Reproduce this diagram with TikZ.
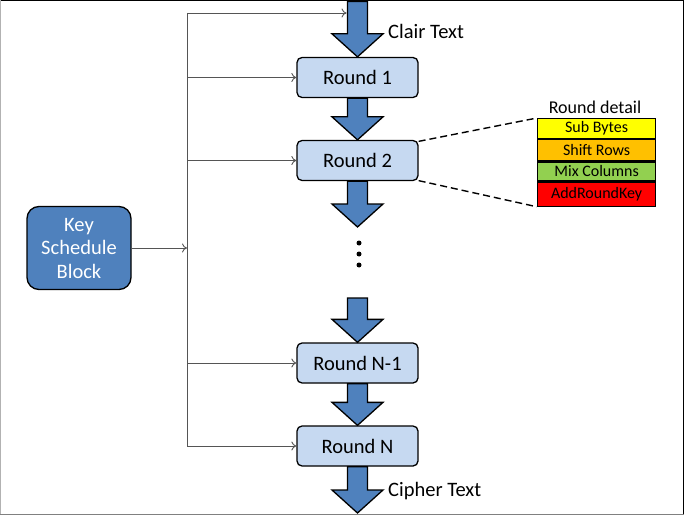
\documentclass[tikz,border=0pt]{standalone}
\usepackage{fontspec}
\setmainfont{Carlito}
\usetikzlibrary{calc,arrows.meta}
\definecolor{roundfill}{HTML}{C6D9F1}
\definecolor{keyfill}{HTML}{4F81BD}
\definecolor{arrfill}{HTML}{4F81BD}
\definecolor{connc}{HTML}{555555}
\definecolor{sbfill}{HTML}{FFFF00}
\definecolor{srfill}{HTML}{FFC000}
\definecolor{mcfill}{HTML}{92D050}
\definecolor{arkfill}{HTML}{FF0000}
\tikzset{
  roundbox/.style={draw=black, line width=1.3pt, fill=roundfill, rounded corners=5pt,
    minimum width=121pt, minimum height=40pt, inner sep=0pt, font=\fontsize{20.5}{22}\selectfont},
  keybox/.style={draw=black, line width=1.3pt, fill=keyfill, rounded corners=12pt,
    minimum width=104pt, minimum height=83pt, inner sep=0pt, text=white, align=center,
    font=\fontsize{20.5}{23.5}\selectfont},
  conn/.style={draw=connc, line width=0.9pt},
  connarrow/.style={conn, -{To[length=5pt,width=9pt]}},
  blockarr/.style={draw=black, line width=1.3pt, fill=arrfill, line join=miter},
  detailbox/.style={draw=black, line width=1.2pt, minimum width=118pt, inner sep=0pt,
    font=\fontsize{16}{17}\selectfont},
  lbl/.style={font=\fontsize{20.5}{22}\selectfont, anchor=west, inner sep=0pt},
  dashconn/.style={draw=black, line width=1.4pt, dash pattern=on 7pt off 4pt},
  dot/.style={circle, fill=black, inner sep=0pt, minimum size=5pt}
}
\newcommand{\blockarrow}[2]{%
  \path[blockarr] let \p1=(#1), \p2=(#2) in
    (\x1-10pt,\y1) -- (\x1+10pt,\y1) -- (\x1+10pt,\y2+23pt) -- (\x1+25.5pt,\y2+23pt)
    -- (\x1,\y2) -- (\x1-25.5pt,\y2+23pt) -- (\x1-10pt,\y2+23pt) -- cycle;}
\begin{document}
\begin{tikzpicture}[x=1pt,y=-1pt]
\useasboundingbox (0,0) rectangle (685,516);
% frame
\draw[black, line width=1.5pt] (0,0.75) -- (683.5,0.75) -- (683.5,514);
\draw[gray!60, line width=1.2pt] (0.6,0) -- (0.6,514);
\draw[gray, line width=1.5pt] (0,514.5) -- (683.5,514.5);

% rounds
\node[roundbox] (r1) at (357.5,77.5) {Round 1};
\node[roundbox] (r2) at (357.5,160.5) {Round 2};
\node[roundbox] (rn1) at (357.5,363) {Round N-1};
\node[roundbox] (rn) at (357.5,446) {Round N};
\node[keybox] (key) at (79,248) {Key\\Schedule\\Block};

% coordinates for free ends of block arrows
\coordinate (in) at (357.5,1.5);
\coordinate (out) at (357.5,513);
\coordinate (gapA) at (357.5,227);
\coordinate (gapB) at (357.5,298);

% block arrows
\blockarrow{in}{r1.north}
\blockarrow{r1.south}{r2.north}
\blockarrow{r2.south}{gapA}
\blockarrow{gapB}{rn1.north}
\blockarrow{rn1.south}{rn.north}
\blockarrow{rn.south}{out}

% dots
\node[dot] (d1) at (359,243) {};
\node[dot] (d2) at (359,254) {};
\node[dot] (d3) at (359,265) {};

% labels
\node[lbl] (clair) at (388,31) {Clair Text};
\node[lbl] (cipher) at (388,491) {Cipher Text};

% key bus
\coordinate (bustop) at (187,13);
\coordinate (busbot) at (187,446);
\coordinate (inleft) at (346.5,13);
\draw[conn] (bustop) -- (busbot);
\draw[connarrow] (bustop) -- (inleft);
\draw[connarrow] (bustop |- r1.west) -- (r1.west);
\draw[connarrow] (bustop |- r2.west) -- (r2.west);
\draw[connarrow] (bustop |- rn1.west) -- (rn1.west);
\draw[connarrow] (busbot) -- (rn.west);
\draw[connarrow] (key.east) -- (key.east -| bustop);

% round detail
\node[font=\fontsize{18}{20}\selectfont, inner sep=0pt] (rdl) at (595,107) {Round detail};
\node[detailbox, fill=sbfill, minimum height=20pt, anchor=north west] (sb) at (537,118) {Sub Bytes};
\node[detailbox, fill=srfill, minimum height=21pt, anchor=north] (sr) at (sb.south) {Shift Rows};
\node[detailbox, fill=mcfill, minimum height=19pt, anchor=north] (mc) at (sr.south) {Mix Columns};
\node[detailbox, fill=arkfill, minimum height=24pt, anchor=north] (ark) at (mc.south) {AddRoundKey};

\draw[dashconn] ($(r2.north east)+(0,1.5)$) -- (sb.north west);
\draw[dashconn] ($(r2.south east)+(0,-0.5)$) -- (ark.south west);
\end{tikzpicture}
\end{document}
